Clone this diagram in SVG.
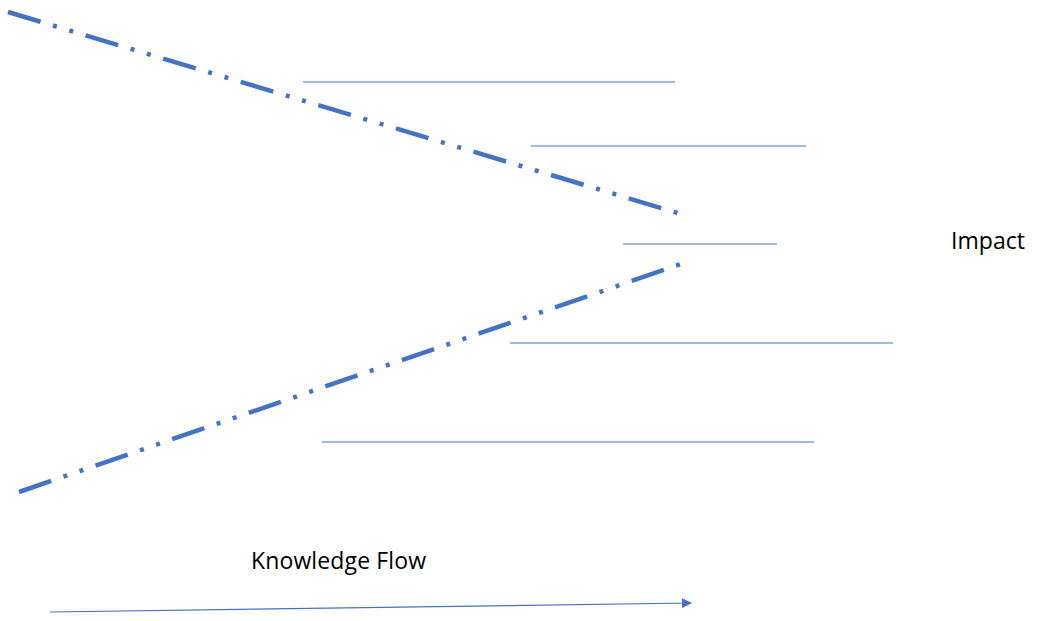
<svg xmlns="http://www.w3.org/2000/svg" width="1038" height="621" viewBox="0 0 1038 621">
<style>
.dd{fill:none;stroke:#4472C4;stroke-width:4.5;stroke-dasharray:34 13 4 13 4 13}
.thin{fill:none;stroke:#4472C4;stroke-width:1.2}
.lbl{font-family:"Open Sans","Liberation Sans",sans-serif;font-size:23px;fill:#000}
</style>
<defs>
<marker id="ah" markerWidth="10" markerHeight="10" refX="9" refY="5" orient="auto" markerUnits="userSpaceOnUse">
<path d="M0,0 L10,5 L0,10 Z" fill="#4472C4"/>
</marker>
</defs>
<rect width="1038" height="621" fill="#fff"/>
<g id="connectors">
<line class="dd" x1="8" y1="12" x2="681" y2="214"/>
<line class="dd" x1="19" y1="492" x2="681" y2="264"/>
<line class="thin" x1="303" y1="82" x2="675" y2="82"/>
<line class="thin" x1="531" y1="146" x2="806" y2="146"/>
<line class="thin" x1="623" y1="244" x2="777" y2="244" stroke="#8FAADC"/>
<line class="thin" x1="510" y1="343" x2="893" y2="343"/>
<line class="thin" x1="322" y1="442" x2="814" y2="442"/>
<line class="thin" x1="50" y1="612" x2="691" y2="603" marker-end="url(#ah)"/>
</g>
<g id="impact"><text class="lbl" x="951" y="249" textLength="74">Impact</text></g>
<g id="knowledge-flow"><text class="lbl" x="251" y="569" textLength="175">Knowledge Flow</text></g>
</svg>
